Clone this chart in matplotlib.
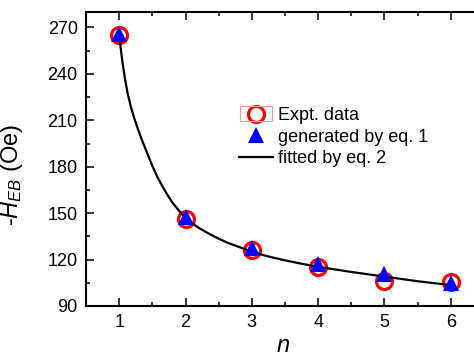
import matplotlib
matplotlib.use("Agg")
import matplotlib.pyplot as plt
from matplotlib.ticker import MultipleLocator
from matplotlib.lines import Line2D
from matplotlib.patches import Rectangle

plt.rcParams['font.family'] = ['Liberation Sans', 'DejaVu Sans']
plt.rcParams['mathtext.fontset'] = 'custom'
plt.rcParams['mathtext.rm'] = 'Liberation Sans'
plt.rcParams['mathtext.it'] = 'Liberation Sans:italic'

# Data
n_vals = [1, 2, 3, 4, 5, 6]
expt = [265, 146, 126, 115, 106, 105.3]
generated = [265.5, 147.5, 127.5, 117, 110.5, 104.6]
fit_n = [1.0, 1.025, 1.05, 1.085, 1.125, 1.175, 1.23, 1.29, 1.35, 1.42, 1.5, 1.575,
         1.65, 1.725, 1.8, 1.9, 2.0, 2.1, 2.2, 2.35, 2.5, 2.65, 2.85, 3.0,
         3.25, 3.5, 3.75, 4.0, 4.5, 5.0, 5.5, 6.0]
fit_h = [265, 256, 247.5, 237.5, 228, 219, 211, 203.5, 196.5, 189, 180.5, 173.5,
         167.5, 162, 157, 151.7, 147, 143.5, 140.5, 136.8, 133.5, 130.6, 127.5, 125,
         122, 119.5, 117.3, 115.3, 112, 109, 106, 103.5]
xticks = [1, 2, 3, 4, 5, 6]
yticks = [90, 120, 150, 180, 210, 240, 270]

fig = plt.figure(figsize=(4.74, 3.55), dpi=100)
ax = fig.add_axes([86/474, 49/355, 398/474, 294/355])

ax.plot(n_vals, expt, linestyle='none', marker='o', markersize=11.5,
        markerfacecolor='none', markeredgecolor='red', markeredgewidth=2.3, zorder=2)
ax.plot(fit_n, fit_h, color='black', linewidth=1.6, zorder=3)
ax.plot(n_vals, generated, linestyle='none', marker='^', markersize=12,
        color='blue', markeredgewidth=0, zorder=4)

ax.set_xlim(0.5, 6.5)
ax.set_ylim(90, 280)
ax.set_xticks(xticks)
ax.set_yticks(yticks)
ax.xaxis.set_minor_locator(MultipleLocator(0.5))
ax.yaxis.set_minor_locator(MultipleLocator(15))
ax.tick_params(which='both', direction='in', top=True, right=False, width=1.1,
               labelsize=13, color='black')
ax.tick_params(which='major', length=5.5, pad=6)
ax.tick_params(which='minor', length=3)
for s in ax.spines.values():
    s.set_linewidth(1.5)

ax.set_ylabel('-$H_{EB}$ (Oe)', fontsize=17)
ax.yaxis.set_label_coords(-0.153, 0.446)
ax.set_xlabel('$n$', fontsize=17)
ax.xaxis.set_label_coords(0.495, -0.1)

handles = [
    Line2D([], [], linestyle='none', marker='o', markersize=11.5, markerfacecolor='none',
           markeredgecolor='red', markeredgewidth=2.3),
    Line2D([], [], linestyle='none', marker='^', markersize=12, color='blue', markeredgewidth=0),
    Line2D([], [], color='black', linewidth=1.6),
]
labels = ['Expt. data', 'generated by eq. 1', 'fitted by eq. 2']
leg = ax.legend(handles, labels, loc='upper left', bbox_to_anchor=(239/474, 1 - 107/355),
                bbox_transform=fig.transFigure, frameon=False, fontsize=13,
                handlelength=1.9, handletextpad=0.25, labelspacing=0.25,
                borderpad=0, borderaxespad=0)

fig.patches.append(Rectangle((240/474, 1 - 121/355), 32/474, 15/355,
                             transform=fig.transFigure, fill=False,
                             edgecolor='#ff9999', linewidth=0.8))

fig.savefig('out.png', dpi=100)
